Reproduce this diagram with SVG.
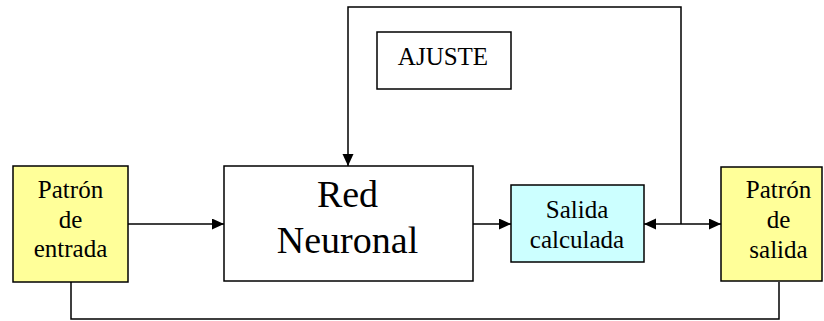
<svg xmlns="http://www.w3.org/2000/svg" width="824" height="321" viewBox="0 0 824 321">
<defs>
<style>
.box{stroke:#000;stroke-width:1.5}
.ln{fill:none;stroke:#000;stroke-width:1.5}
</style>
<marker id="ah" markerWidth="12" markerHeight="12" refX="12" refY="5.5" orient="auto-start-reverse" markerUnits="userSpaceOnUse">
<path d="M0,0 L12,5.5 L0,11 Z" fill="#000"/>
</marker>
</defs>
<rect width="824" height="321" fill="#fff"/>
<g id="connectors">
<line class="ln" x1="128" y1="224" x2="224" y2="224" marker-end="url(#ah)"/>
<line class="ln" x1="473" y1="224" x2="511" y2="224" marker-end="url(#ah)"/>
<line class="ln" x1="644" y1="224" x2="721" y2="224" marker-start="url(#ah)" marker-end="url(#ah)"/>
<polyline class="ln" points="681,224 681,7 348,7 348,166" marker-end="url(#ah)"/>
<polyline class="ln" points="71,282 71,319 779,319 779,282"/>
</g>
<g font-family="Liberation Serif, Times New Roman, serif" text-anchor="middle" fill="#000">
<g id="patron-entrada">
<rect class="box" x="13" y="166" width="115" height="116" fill="#FFFF99"/>
<text font-size="25" x="70.5" y="198">Patrón</text>
<text font-size="25" x="70.5" y="228">de</text>
<text font-size="25" x="70.5" y="257">entrada</text>
</g>
<g id="red-neuronal">
<rect class="box" x="224" y="166" width="249" height="115" fill="#fff"/>
<text font-size="38" x="347.5" y="207">Red</text>
<text font-size="38" x="347.5" y="253">Neuronal</text>
</g>
<g id="salida-calculada">
<rect class="box" x="511" y="185" width="133" height="77" fill="#CCFFFF"/>
<text font-size="25" x="577" y="218">Salida</text>
<text font-size="25" x="577" y="248">calculada</text>
</g>
<g id="patron-salida">
<rect class="box" x="721" y="167" width="101" height="114" fill="#FFFF99"/>
<text font-size="25" x="778.5" y="198">Patrón</text>
<text font-size="25" x="778.5" y="228">de</text>
<text font-size="25" x="778.5" y="258">salida</text>
</g>
<g id="ajuste">
<rect class="box" x="377" y="32" width="134" height="57" fill="#fff"/>
<text font-size="25" x="443" y="65">AJUSTE</text>
</g>
</g>
</svg>
